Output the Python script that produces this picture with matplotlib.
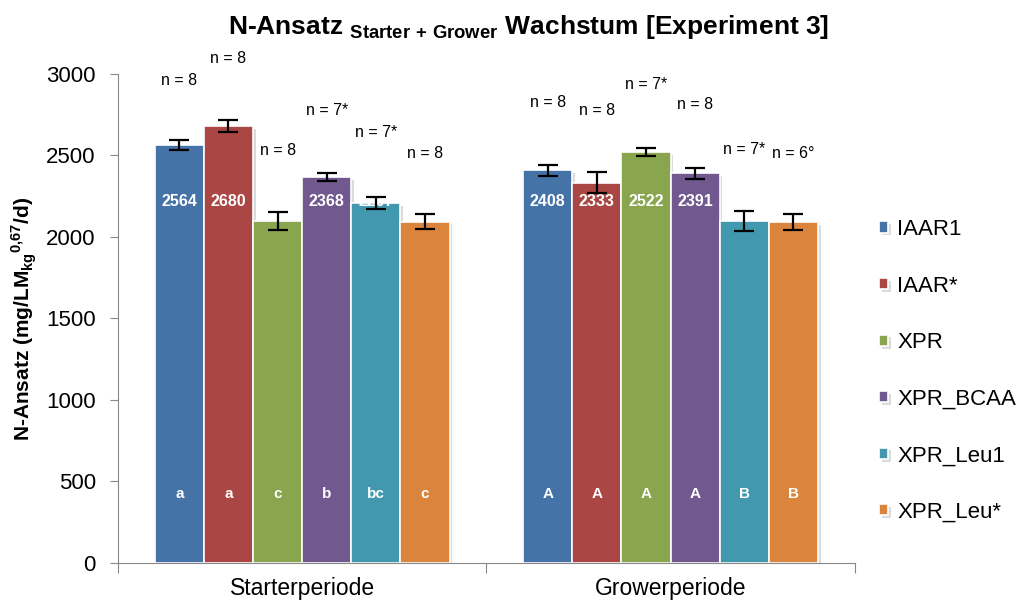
import numpy as np
import matplotlib
matplotlib.use("Agg")
import matplotlib.pyplot as plt
from matplotlib import patheffects as pe

plt.rcParams['font.family'] = ['Liberation Sans', 'DejaVu Sans']
plt.rcParams['mathtext.fontset'] = 'custom'
plt.rcParams['mathtext.rm'] = 'Liberation Sans'
plt.rcParams['mathtext.bf'] = 'Liberation Sans:bold'

perioden = ["Starterperiode", "Growerperiode"]
gruppen = ["IAAR1", "IAAR*", "XPR", "XPR_BCAA", "XPR_Leu1", "XPR_Leu*"]
farben = ["#4572A7", "#AA4643", "#89A54E", "#71588F", "#4198AF", "#DB843D"]

# Mittelwerte je Gruppe: [Starter, Grower]
werte = [[2564, 2408], [2680, 2333], [2098, 2522], [2368, 2391], [2207, 2098], [2094, 2092]]
fehler = [[28, 36], [36, 64], [55, 25], [26, 34], [38, 59], [46, 49]]
buchst = [["a", "A"], ["a", "A"], ["c", "A"], ["b", "A"], ["bc", "B"], ["c", "B"]]
n_text = [["n = 8", "n = 8"], ["n = 8", "n = 8"], ["n = 8", "n = 7*"],
          ["n = 7*", "n = 8"], ["n = 7*", "n = 7*"], ["n = 8", "n = 6°"]]
n_hoehe = [[2963, 2822], [3092, 2773], [2528, 2933], [2779, 2810], [2638, 2534], [2515, 2515]]
# Werte, deren Beschriftung im Balken sichtbar ist
zeige_wert = [[True, True], [True, True], [False, True], [True, True], [True, False], [False, False]]

fig = plt.figure(figsize=(10.32, 6), dpi=100)
ax = fig.add_axes([0.1143, 0.0617, 0.714, 0.815])

x = np.arange(len(perioden))
w = 0.8 / len(gruppen)
schatten = [pe.SimplePatchShadow(offset=(2, -2), shadow_rgbFace='#999999', alpha=0.35), pe.Normal()]

for i, g in enumerate(gruppen):
    pos = x + (i - 2.5) * w
    bars = ax.bar(pos, werte[i], w, color=farben[i], edgecolor='white', linewidth=1.2,
                  label=g, zorder=2)
    for b in bars:
        b.set_path_effects(schatten)
    ax.errorbar(pos, werte[i], yerr=fehler[i], fmt='none', ecolor='black',
                elinewidth=1.6, capsize=7, capthick=1.6, zorder=4)
    for j in range(len(perioden)):
        if zeige_wert[i][j]:
            ax.text(pos[j], 2220, str(werte[i][j]), ha='center', va='center',
                    color='white', fontsize=11.5, fontweight='bold', zorder=3)
        ax.text(pos[j], 425, buchst[i][j], ha='center', va='center',
                color='white', fontsize=11, fontweight='bold', zorder=3)
        ax.text(pos[j], n_hoehe[i][j], n_text[i][j], ha='center', va='center',
                fontsize=11.5, clip_on=False)

ax.set_xlim(-0.5, 1.5)
ax.set_ylim(0, 3000)
ax.set_yticks(np.arange(0, 3001, 500))
ax.set_xticks([-0.5, 0.5, 1.5])
ax.set_xticklabels([])
ax.set_xticks(x, minor=True)
ax.set_xticklabels(perioden, minor=True, fontsize=16.5)
ax.tick_params(axis='x', which='minor', length=0, pad=10)
ax.tick_params(axis='x', which='major', length=7, color='#888888', direction='out')
ax.tick_params(axis='y', labelsize=16, length=6, pad=10, color='#888888', direction='out')
for s in ['top', 'right']:
    ax.spines[s].set_visible(False)
for s in ['left', 'bottom']:
    ax.spines[s].set_color('#888888')

ax.set_ylabel(r"N-Ansatz (mg/LM$_{\mathbf{kg}}$$^{\mathbf{0{,}67}}$/d)",
              fontsize=15, fontweight='bold', labelpad=5)

fig.text(0.512, 0.955, r"N-Ansatz $_{\mathbf{Starter\ {+}\ Grower}}$ Wachstum [Experiment 3]",
         ha='center', va='center', fontsize=19, fontweight='bold')

fig.legend(loc='upper left', bbox_to_anchor=(0.852, 0.635), frameon=False, fontsize=16,
           handlelength=0.4, handleheight=0.4, handletextpad=0.4, labelspacing=1.6,
           borderpad=0, borderaxespad=0)

fig.savefig("out.png", dpi=100)
